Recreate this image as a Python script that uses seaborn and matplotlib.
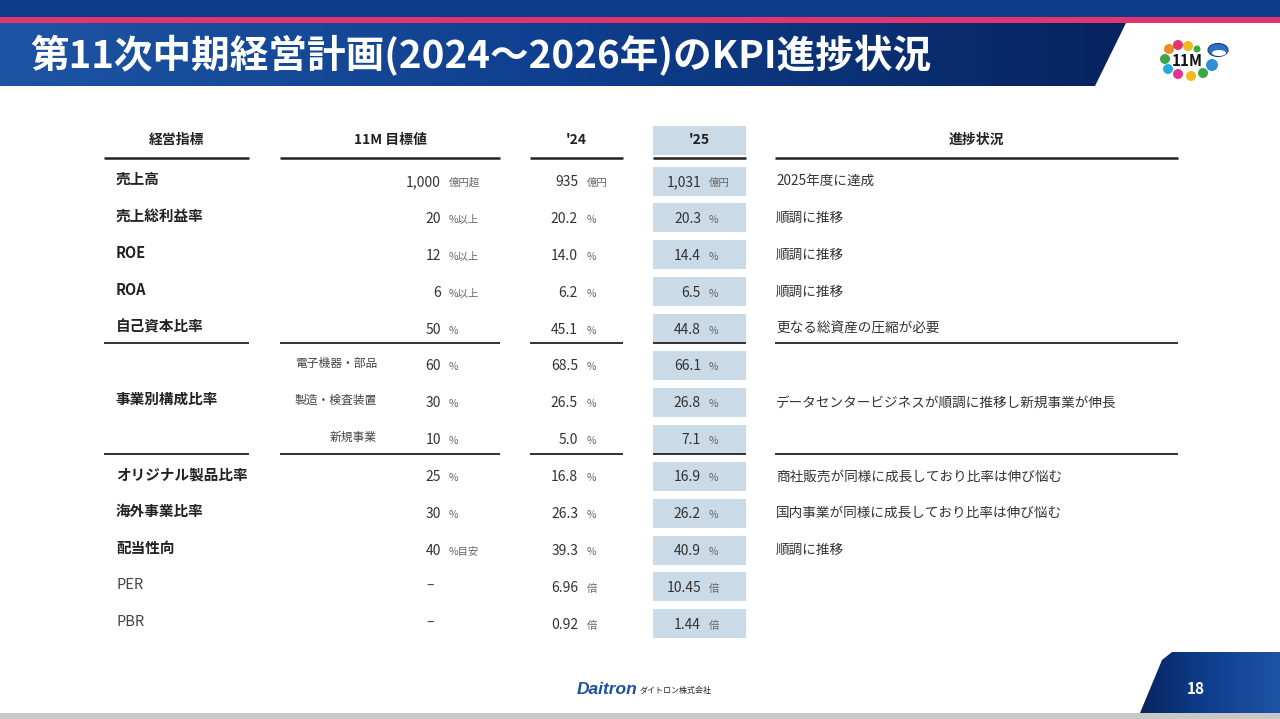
import numpy as np
import matplotlib.pyplot as plt
import matplotlib.patches as mpatches
from matplotlib.colors import LinearSegmentedColormap
import seaborn as sns

sns.set_theme(style='white')
plt.rcParams['font.family'] = ['Noto Sans CJK JP', 'DejaVu Sans']

# ---- table data ----
row_labels = ['売上高', '売上総利益率', 'ROE', 'ROA', '自己資本比率',
              '', '事業別構成比率', '',
              'オリジナル製品比率', '海外事業比率', '配当性向', 'PER', 'PBR']
row_bold = [True] * 11 + [False, False]
sub_labels = ['', '', '', '', '', '電子機器・部品', '製造・検査装置', '新規事業',
              '', '', '', '', '']
target = ['1,000', '20', '12', '6', '50', '60', '30', '10', '25', '30', '40', '–', '–']
target_unit = ['億円超', '%以上', '%以上', '%以上', '%', '%', '%', '%', '%', '%', '%目安', '', '']
fy24 = ['935', '20.2', '14.0', '6.2', '45.1', '68.5', '26.5', '5.0', '16.8', '26.3', '39.3', '6.96', '0.92']
fy25 = ['1,031', '20.3', '14.4', '6.5', '44.8', '66.1', '26.8', '7.1', '16.9', '26.2', '40.9', '10.45', '1.44']
value_unit = ['億円', '%', '%', '%', '%', '%', '%', '%', '%', '%', '%', '倍', '倍']
progress = ['2025年度に達成', '順調に推移', '順調に推移', '順調に推移', '更なる総資産の圧縮が必要',
            '', 'データセンタービジネスが順調に推移し新規事業が伸長', '',
            '商社販売が同様に成長しており比率は伸び悩む', '国内事業が同様に成長しており比率は伸び悩む',
            '順調に推移', '', '']
headers = ['経営指標', '11M 目標値', "'24", "'25", '進捗状況']
group_breaks = [4, 7]   # rule after these rows

TITLE = '第11次中期経営計画(2024～2026年)のKPI進捗状況'
PAGE = '18'

# ---- layout ----
W, H = 1280, 719
fig = plt.figure(figsize=(12.8, 7.19), dpi=100)
ax = fig.add_axes([0, 0, 1, 1])
ax.set_xlim(0, W)
ax.set_ylim(H, 0)
ax.axis('off')

navy = '#0c3b88'
pink = '#e2356f'
dark = '#222222'
box_col = '#cadae6'

# header band
ax.add_patch(mpatches.Rectangle((0, 0), W, 17, color=navy, lw=0))
ax.add_patch(mpatches.Rectangle((0, 17), W, 6, color=pink, lw=0))
grad = LinearSegmentedColormap.from_list('g', ['#1d54a3', '#0f3f8e', '#07235e'])
img = ax.imshow(np.linspace(0, 1, 256)[None, :], cmap=grad, aspect='auto',
                extent=(0, 1130, 86, 23), zorder=1)
band = mpatches.Polygon([(0, 23), (1126, 23), (1095, 86), (0, 86)], closed=True,
                        transform=ax.transData, facecolor='none', edgecolor='none')
ax.add_patch(band)
img.set_clip_path(band)
ax.text(30, 56, TITLE, color='white', fontsize=27.8, fontweight='bold',
        va='center', ha='left', zorder=3)

# 11M logo
dots = [(1169, 49, '#f08a24', 5), (1178, 45, '#e2356f', 5), (1188, 46, '#f2b91a', 5),
        (1197, 49, '#3aa845', 3.5), (1165, 59, '#3aa845', 5), (1168, 69, '#27a9e1', 5),
        (1178, 74, '#e2358f', 5), (1191, 76, '#f2b91a', 5), (1203, 73, '#3aa845', 5),
        (1212, 65, '#2d8fd6', 6)]
for x, y, c, r in dots:
    ax.add_patch(mpatches.Circle((x, y), r, color=c, lw=0))
ax.text(1187, 61, '11M', fontsize=11, fontweight='bold', color='#111111',
        ha='center', va='center')
ax.add_patch(mpatches.Ellipse((1218, 50), 20, 13, facecolor='#2d6fc0', edgecolor='#1a3d7a', lw=0.8))
ax.add_patch(mpatches.Ellipse((1219, 53), 14, 6, facecolor='white', lw=0))

# ---- table ----
cols = {'name': (104, 249), 'target': (280, 500), 'y24': (530, 623),
        'y25': (653, 746), 'prog': (775, 1178)}
col_keys = ['name', 'target', 'y24', 'y25', 'prog']

n = len(row_labels)
ys = 182 + 36.9 * np.arange(n)
head_y = 140

# highlight boxes for '25
ax.barh([head_y] + list(ys - 1), [93] * (n + 1), left=653, height=29,
        color=box_col, lw=0, zorder=1)

for k, h in zip(col_keys, headers):
    x0, x1 = cols[k]
    ax.text((x0 + x1) / 2, head_y, h, fontsize=10, fontweight='bold', color=dark,
            ha='center', va='center', zorder=3)
    ax.hlines(158, x0, x1, color=dark, lw=1.8, zorder=3)
    for b in group_breaks:
        yb = (ys[b] + ys[b + 1]) / 2 - 5
        ax.hlines(yb, x0, x1, color=dark, lw=1.3, zorder=3)

for i in range(n):
    y = ys[i]
    if row_labels[i]:
        ly = y - 5 if i == 6 else y - 3
        ax.text(116, ly, row_labels[i], fontsize=10.5,
                fontweight='bold' if row_bold[i] else 'normal',
                color=dark if row_bold[i] else '#444444', ha='left', va='center')
    if sub_labels[i]:
        ax.text(377, y - 3, sub_labels[i], fontsize=8.5, color='#444444',
                ha='right', va='center')
    if target[i] == '–':
        ax.text(430, y - 2, target[i], fontsize=10, color='#444444', ha='center', va='center')
    else:
        ax.text(441, y, target[i], fontsize=10, color='#333333', ha='right', va='center')
        ax.text(449, y + 1, target_unit[i], fontsize=7.5, color='#666666', ha='left', va='center')
    ax.text(578, y, fy24[i], fontsize=10, color='#333333', ha='right', va='center')
    ax.text(587, y + 1, value_unit[i], fontsize=7.5, color='#666666', ha='left', va='center')
    ax.text(701, y, fy25[i], fontsize=10, color='#333333', ha='right', va='center', zorder=3)
    ax.text(709, y + 1, value_unit[i], fontsize=7.5, color='#666666', ha='left', va='center', zorder=3)
    if progress[i]:
        ax.text(776, y - 1, progress[i], fontsize=9.8, color='#333333', ha='left', va='center')

# ---- footer ----
ax.add_patch(mpatches.Rectangle((0, 713), W, 6, color='#c8c8c8', lw=0))
foot = mpatches.Polygon([(1140, 713), (1162, 660), (1172, 652), (W, 652), (W, 713)],
                        closed=True, lw=0)
ax.add_patch(foot)
fimg = ax.imshow(np.linspace(0, 1, 256)[None, :], cmap=grad.reversed(), aspect='auto',
                 extent=(1138, W, 713, 652), zorder=1)
fimg.set_clip_path(foot)
foot.set_facecolor('none')
ax.text(1196, 689, PAGE, color='white', fontsize=11, fontweight='bold',
        ha='center', va='center', zorder=3)
ax.text(577, 690, 'Daitron', color='#1b4fa0', fontsize=12.5, fontweight='bold',
        style='italic', ha='left', va='center', family=['Liberation Sans'])
ax.text(640, 691, 'ダイトロン株式会社', color='#222222', fontsize=5.8,
        ha='left', va='center')

fig.savefig('out.png', dpi=100)
